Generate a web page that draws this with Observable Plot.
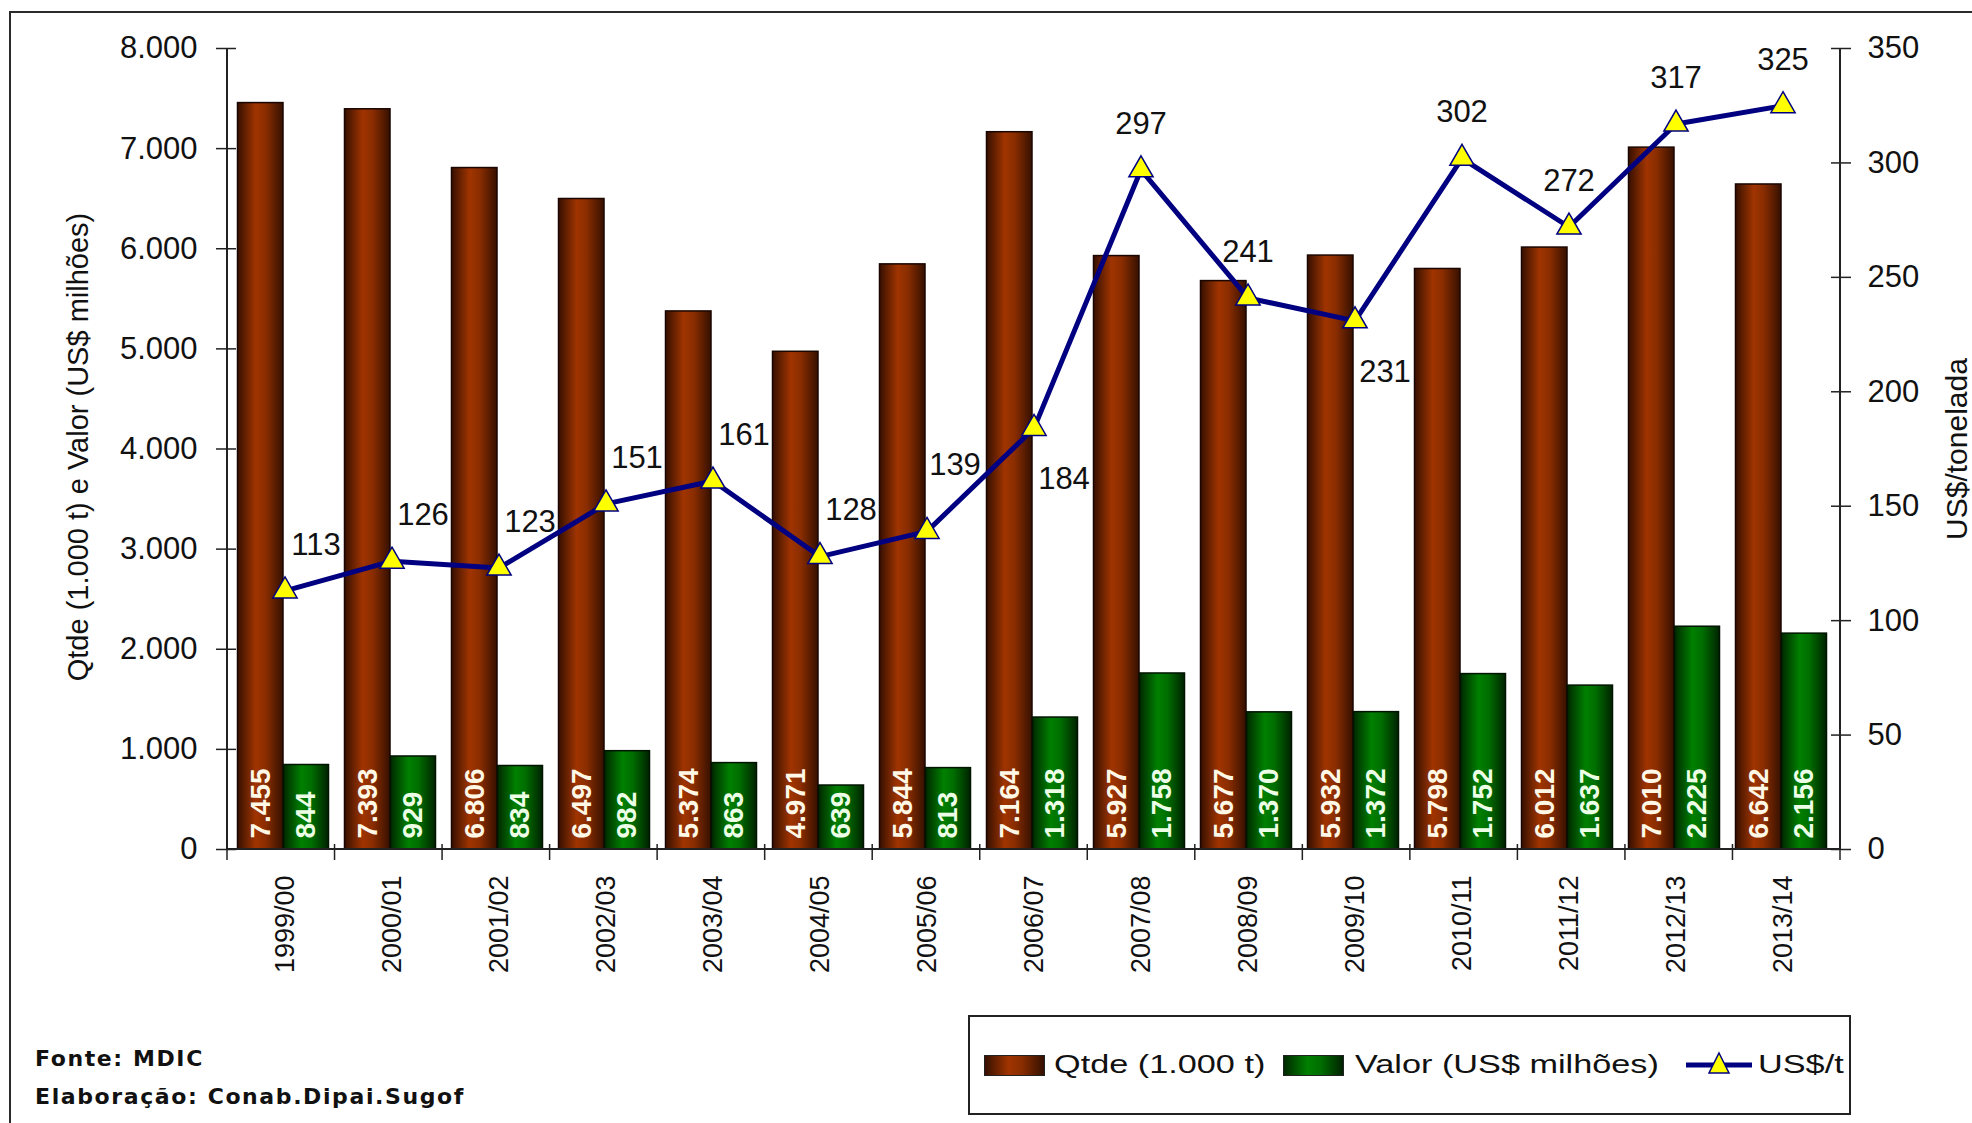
<!DOCTYPE html>
<html>
<head>
<meta charset="utf-8">
<script src="https://cdn.jsdelivr.net/npm/d3@7"></script>
<script src="https://cdn.jsdelivr.net/npm/@observablehq/plot@0.6"></script>
<style>
  html, body { margin: 0; padding: 0; background: #fff; }
  #page { position: relative; width: 1972px; height: 1123px; overflow: hidden; background: #fff;
          font-family: "Liberation Sans", Arial, sans-serif; color: #111; }
  #frame { position: absolute; left: 9px; top: 11px; width: 2200px; height: 1400px; border: 2px solid #2a2a2a; }
  #chart { position: absolute; left: 0; top: 0; }
  #legend { position: absolute; left: 968px; top: 1015px; width: 879px; height: 96px; border: 2px solid #222; background: #fff; }
  .sw { position: absolute; top: 1055px; width: 59px; height: 19px; border: 1px solid #222; }
  .lt { position: absolute; top: 1049px; font-size: 25px; line-height: 30px; white-space: nowrap;
        transform: scaleX(1.37); transform-origin: left center; color: #111; }
  .foot { position: absolute; left: 35px; font-family: "DejaVu Sans", Verdana, sans-serif; font-weight: bold;
          font-size: 22px; letter-spacing: 1.6px; white-space: nowrap; color: #111; }
</style>
</head>
<body>
<svg width="0" height="0" style="position:absolute">
  <defs>
    <linearGradient id="gBrown" x1="0" x2="1" y1="0" y2="0">
      <stop offset="0" stop-color="#361000"/>
      <stop offset="0.4" stop-color="#a03400"/>
      <stop offset="0.62" stop-color="#8a2d00"/>
      <stop offset="1" stop-color="#351000"/>
    </linearGradient>
    <linearGradient id="gGreen" x1="0" x2="1" y1="0" y2="0">
      <stop offset="0" stop-color="#002800"/>
      <stop offset="0.4" stop-color="#008000"/>
      <stop offset="0.62" stop-color="#006e00"/>
      <stop offset="1" stop-color="#002200"/>
    </linearGradient>
  </defs>
</svg>
<div id="page">
  <div id="frame"></div>
  <div id="chart"></div>
  <div id="legend"></div>
  <div class="sw" style="left:984px;background:linear-gradient(to right,#361000,#a03400 40%,#8a2d00 62%,#351000);"></div>
  <div class="lt" style="left:1054px;">Qtde (1.000 t)</div>
  <div class="sw" style="left:1283px;background:linear-gradient(to right,#002800,#008000 40%,#006e00 62%,#002200);"></div>
  <div class="lt" style="left:1355px;">Valor (US$ milhões)</div>
  <svg style="position:absolute;left:1686px;top:1049px" width="66" height="30">
    <line x1="0" x2="66" y1="16" y2="16" stroke="#000080" stroke-width="5"/>
    <path d="M33,4 L43,24 L23,24 Z" fill="#ffff00" stroke="#000080" stroke-width="1.5"/>
  </svg>
  <div class="lt" style="left:1758px;">US$/t</div>
  <div class="foot" style="top:1046px;">Fonte: MDIC</div>
  <div class="foot" style="top:1084px;">Elaboração: Conab.Dipai.Sugof</div>
</div>
<script>
const categories = ["1999/00","2000/01","2001/02","2002/03","2003/04","2004/05","2005/06","2006/07","2007/08","2008/09","2009/10","2010/11","2011/12","2012/13","2013/14"];
const qtde = [7455, 7393, 6806, 6497, 5374, 4971, 5844, 7164, 5927, 5677, 5932, 5798, 6012, 7010, 6642];
const valor = [844, 929, 834, 982, 863, 639, 813, 1318, 1758, 1370, 1372, 1752, 1637, 2225, 2156];
const usdPorT = [113, 126, 123, 151, 161, 128, 139, 184, 297, 241, 231, 302, 272, 317, 325];
const labelPlacement = ["ur","ur","ur","ur","ur","ur","urh","br","a","a","br","a","a","a","a"];
const leftTicks = [0, 1000, 2000, 3000, 4000, 5000, 6000, 7000, 8000];
const rightTicks = [0, 50, 100, 150, 200, 250, 300, 350];
const leftTitle = "Qtde (1.000 t) e Valor (US$ milhões)";
const rightTitle = "US$/tonelada";

const LEFT_MAX = 8000, RIGHT_MAX = 350;
const K = LEFT_MAX / RIGHT_MAX;

const data = categories.map((c, i) => ({cat: c, qtde: qtde[i], valor: valor[i], usd: usdPorT[i], pos: labelPlacement[i]}));
const fmt = d3.formatLocale({decimal: ",", thousands: ".", grouping: [3], currency: ["US$", ""]}).format(",d");

const font = '"Liberation Sans", Arial, sans-serif';

function axisLines(index, scales, values, dims) {
  const g = d3.create("svg:g").attr("stroke", "#222").attr("fill", "none");
  const x0 = dims.marginLeft, x1 = dims.width - dims.marginRight;
  const yT = dims.marginTop, yB = dims.height - dims.marginBottom;
  g.append("line").attr("x1", x0).attr("x2", x0).attr("y1", yT).attr("y2", yB).attr("stroke-width", 2);
  g.append("line").attr("x1", x1).attr("x2", x1).attr("y1", yT).attr("y2", yB).attr("stroke-width", 2);
  g.append("line").attr("x1", x0).attr("x2", x1).attr("y1", yB).attr("y2", yB).attr("stroke-width", 2);
  const bw = (x1 - x0) / categories.length;
  const bounds = categories.map((c, i) => x0 + i * bw).concat([x1]);
  for (const bx of bounds) {
    g.append("line").attr("x1", bx).attr("x2", bx).attr("y1", yB - 5).attr("y2", yB + 11).attr("stroke-width", 1.5);
  }
  return g.node();
}

const labelOffsets = {ur: [31, -46], urh: [28, -66], a: [0, -46], br: [30, 51]};

const chart = Plot.plot({
  width: 1972,
  height: 1000,
  marginLeft: 227,
  marginRight: 132,
  marginTop: 48,
  marginBottom: 151,
  x: {type: "band", domain: categories, padding: 0, axis: null},
  y: {domain: [0, LEFT_MAX], axis: null},
  style: {fontFamily: font, fontSize: "30px", color: "#111", background: "transparent", overflow: "visible"},
  marks: [
    Plot.barY(data, {x: "cat", y: "qtde", fill: "url(#gBrown)", stroke: "#1a0600", strokeWidth: 1.5, insetLeft: 6.5, insetRight: 55}),
    Plot.barY(data, {x: "cat", y: "valor", fill: "url(#gGreen)", stroke: "#001400", strokeWidth: 1.5, insetLeft: 52.5, insetRight: 9.5}),
    Plot.text(data, {x: "cat", y: () => 0, text: d => fmt(d.qtde), rotate: -90, textAnchor: "start", dx: -24.3, dy: -11,
      fill: "#fff8e6", fontSize: 28, fontWeight: "bold", ariaLabel: "barvalue"}),
    Plot.text(data, {x: "cat", y: () => 0, text: d => fmt(d.valor), rotate: -90, textAnchor: "start", dx: 21.5, dy: -11,
      fill: "#ecffe6", fontSize: 28, fontWeight: "bold", ariaLabel: "barvalue"}),
    axisLines,
    Plot.axisY(leftTicks, {anchor: "left", tickSize: 20, dx: 9, stroke: "#222", strokeWidth: 1.5, fill: "none", label: null}),
    Plot.axisY(leftTicks, {anchor: "left", tickSize: 0, tickPadding: 30, tickFormat: fmt, fontSize: 31, fill: "#111", label: null}),
    Plot.axisY(rightTicks.map(t => t * K), {anchor: "right", tickSize: 20, dx: -10, stroke: "#222", strokeWidth: 1.5, fill: "none", label: null}),
    Plot.axisY(rightTicks.map(t => t * K), {anchor: "right", tickSize: 0, tickPadding: 27, tickFormat: d => String(Math.round(d / K)), fontSize: 31, fill: "#111", label: null}),
    Plot.axisX({tickSize: 0, tickPadding: 26, tickRotate: -90, fontSize: 27, fill: "#111", label: null}),
    Plot.text([leftTitle], {text: d => d, frameAnchor: "left", textAnchor: "middle", dx: -149, dy: -2, rotate: -90, fontSize: 29, fill: "#111"}),
    Plot.text([rightTitle], {text: d => d, frameAnchor: "right", textAnchor: "middle", dx: 117, rotate: -90, fontSize: 30, fill: "#111"}),
    Plot.line(data, {x: "cat", y: d => d.usd * K, stroke: "#000080", strokeWidth: 5}),
    Plot.dot(data, {x: "cat", y: d => d.usd * K, symbol: "triangle", r: 9, fill: "#ffff00", stroke: "#000080", strokeWidth: 1.5}),
    ...Object.entries(labelOffsets).map(([pos, [ox, oy]]) =>
      Plot.text(data.filter(d => d.pos === pos), {x: "cat", y: d => d.usd * K, text: d => String(d.usd), dx: ox, dy: oy, fontSize: 31, fill: "#111"}))
  ]
});
// make the in-bar value labels condensed like the original (taller glyphs across the bar)
d3.select(chart).selectAll('g[aria-label="barvalue"] text').each(function() {
  const t = this.getAttribute("transform") || "";
  this.setAttribute("transform", t + " scale(1,1.2)");
});
document.getElementById("chart").appendChild(chart);
</script>
</body>
</html>
